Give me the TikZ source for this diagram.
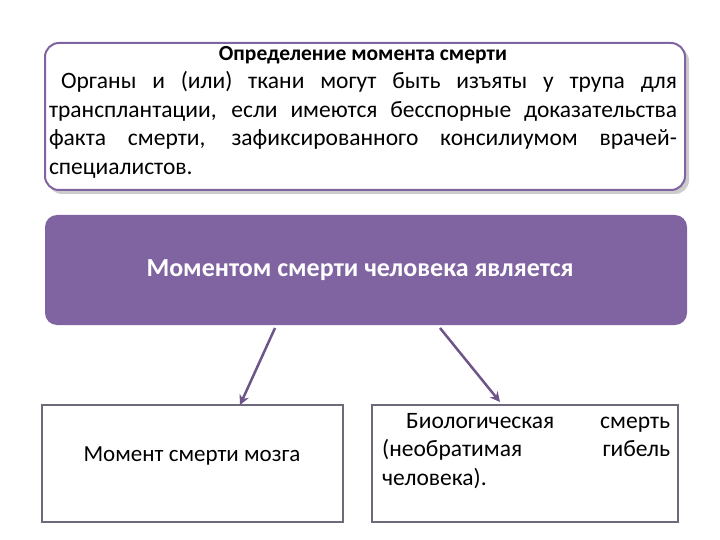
\documentclass[tikz,border=0pt]{standalone}
\usepackage{fontspec}
\setmainfont{Carlito}
\usetikzlibrary{arrows.meta}
\definecolor{pur}{HTML}{8064A2}
\definecolor{gbord}{HTML}{6E6A7A}
\begin{document}
\begin{tikzpicture}[x=1pt,y=-1pt,
  topbox/.style={draw=pur,line width=2pt,rounded corners=14pt,fill=white},
  midbox/.style={fill=pur,rounded corners=12pt},
  lowbox/.style={draw=gbord,line width=1.5pt,fill=white},
  conn/.style={draw=pur!85!black,line width=2.5pt,-{Stealth[length=10pt,width=10pt]}},
  txt/.style={font=\fontsize{23.5}{28.5}\selectfont,align=justify}]
\useasboundingbox (0,0) rectangle (720,540);
\fill[gray!40,rounded corners=14pt] (48,47) rectangle (689,194);
\draw[topbox] (45,43) rectangle (685,190);
\node[txt,text width=628pt,anchor=north,inner sep=0pt] (t) at (363,46) {\centering\textbf{\fontsize{21.5}{28.5}\selectfont Определение момента смерти}\par
\hspace*{12pt}Органы и (или) ткани могут быть изъяты у трупа для трансплантации, если имеются бесспорные доказательства факта смерти, зафиксированного консилиумом врачей-специалистов.};
\fill[midbox] (45,215) rectangle (687,325);
\node[font=\fontsize{26}{30}\selectfont\bfseries,text=white,anchor=west] (m) at (143,270) {Моментом смерти человека является};
\coordinate (s1) at (275,328); \coordinate (s2) at (440,328);
\draw[lowbox] (42,405) rectangle (343,522);
\draw[lowbox] (372,405) rectangle (678,522);
\node[font=\fontsize{23}{28}\selectfont] (l) at (192,456) {Момент смерти мозга};
\node[txt,text width=288pt,anchor=north west,inner sep=0pt] (r) at (382,413) {\hspace*{24pt}Биологическая смерть (необратимая гибель человека).};
\coordinate (e1) at (240,405); \coordinate (e2) at (500,402);
\draw[conn] (s1) -- (e1);
\draw[conn] (s2) -- (e2);
\end{tikzpicture}
\end{document}
